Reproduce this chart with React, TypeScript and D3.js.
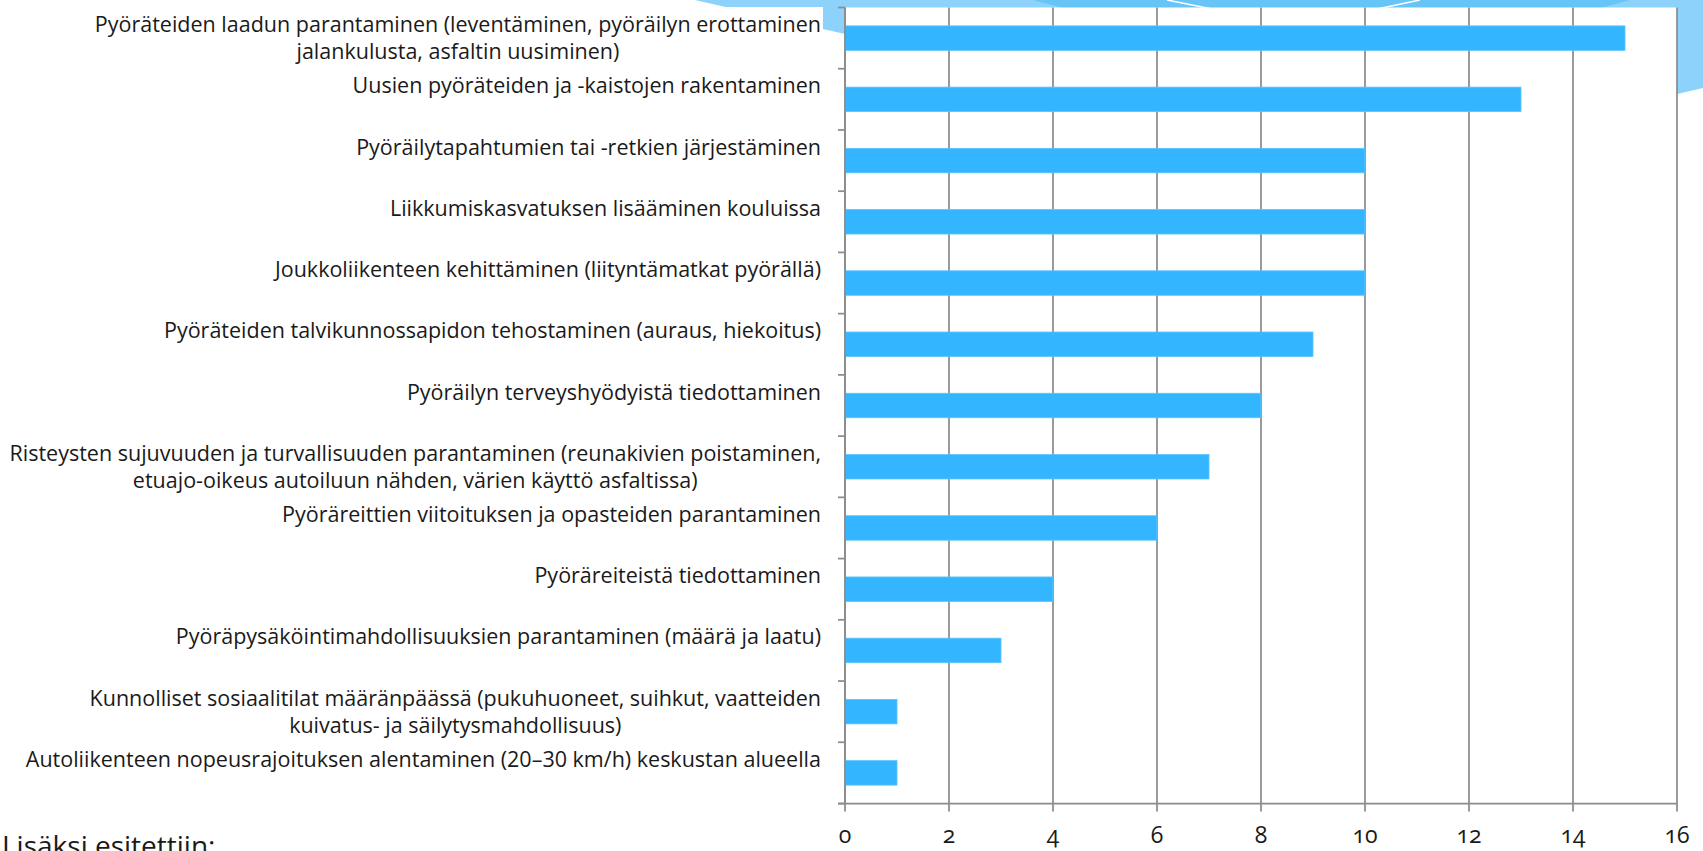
import { useEffect, useRef } from 'react';
import * as d3 from 'd3';

// categories top to bottom, "\n" marks the line break used in the original
const categories = [
  'Pyöräteiden laadun parantaminen (leventäminen, pyöräilyn erottaminen\njalankulusta, asfaltin uusiminen)',
  'Uusien pyöräteiden ja -kaistojen rakentaminen',
  'Pyöräilytapahtumien tai -retkien järjestäminen',
  'Liikkumiskasvatuksen lisääminen kouluissa',
  'Joukkoliikenteen kehittäminen (liityntämatkat pyörällä)',
  'Pyöräteiden talvikunnossapidon tehostaminen (auraus, hiekoitus)',
  'Pyöräilyn terveyshyödyistä tiedottaminen',
  'Risteysten sujuvuuden ja turvallisuuden parantaminen (reunakivien poistaminen,\netuajo-oikeus autoiluun nähden, värien käyttö asfaltissa)',
  'Pyöräreittien viitoituksen ja opasteiden parantaminen',
  'Pyöräreiteistä tiedottaminen',
  'Pyöräpysäköintimahdollisuuksien parantaminen (määrä ja laatu)',
  'Kunnolliset sosiaalitilat määränpäässä (pukuhuoneet, suihkut, vaatteiden\nkuivatus- ja säilytysmahdollisuus)',
  'Autoliikenteen nopeusrajoituksen alentaminen (20–30 km/h) keskustan alueella',
];

const values = [15, 13, 10, 10, 10, 9, 8, 7, 6, 4, 3, 1, 1];

const xTicks = [0, 2, 4, 6, 8, 10, 12, 14, 16];

const footnote = 'Lisäksi esitettiin:';

const WIDTH = 1703;
const HEIGHT = 851;
const FONT = '"Open Sans", "DejaVu Sans", sans-serif';

export default function App() {
  const svgRef = useRef<SVGSVGElement>(null);

  useEffect(() => {
    if (!svgRef.current) return;
    const svg = d3.select(svgRef.current);
    svg.selectAll('*').remove();

    const plot = { left: 845, right: 1677, top: 7.5, bottom: 803.5 };
    const labelRight = 821;

    // slide decoration behind the chart
    const deco = svg.append('g');
    deco
      .append('path')
      .attr('d', 'M695,0 L1703,0 L1703,88 L1660,98 L845,34 Z')
      .attr('fill', '#8dd2fa');
    deco
      .append('path')
      .attr('d', 'M1033,0 L1630,0 L1597,9 L1067,9 Z')
      .attr('fill', '#66c4f7');
    deco
      .append('path')
      .attr('d', 'M1167,0 L1212,9')
      .attr('stroke', '#ffffff')
      .attr('stroke-width', 1.5);
    deco
      .append('path')
      .attr('d', 'M1377,9 L1420,0')
      .attr('stroke', '#ffffff')
      .attr('stroke-width', 1.5);

    // white chart areas
    svg.append('rect').attr('x', 0).attr('y', 7).attr('width', 823).attr('height', HEIGHT - 7).attr('fill', '#fff');
    svg
      .append('rect')
      .attr('x', plot.left)
      .attr('y', plot.top)
      .attr('width', plot.right - plot.left)
      .attr('height', plot.bottom - plot.top)
      .attr('fill', '#fff');

    const x = d3.scaleLinear().domain([0, 16]).range([plot.left, plot.right]);

    const band = d3
      .scaleBand<number>()
      .domain(d3.range(categories.length))
      .range([plot.top, plot.bottom])
      .paddingInner(0)
      .paddingOuter(0);

    const barBand = d3
      .scaleBand<number>()
      .domain(d3.range(categories.length))
      .range([plot.top, plot.bottom])
      .paddingInner(0.6)
      .paddingOuter(0.3);

    const gridColor = '#8c8c8c';

    // vertical grid lines
    svg
      .append('g')
      .selectAll('line')
      .data(xTicks)
      .join('line')
      .attr('x1', (d) => x(d))
      .attr('x2', (d) => x(d))
      .attr('y1', plot.top)
      .attr('y2', plot.bottom + 8)
      .attr('stroke', gridColor)
      .attr('stroke-width', 1.75);

    // bars
    svg
      .append('g')
      .selectAll('rect')
      .data(values)
      .join('rect')
      .attr('x', x(0))
      .attr('y', (_, i) => barBand(i)!)
      .attr('width', (d) => x(d) - x(0))
      .attr('height', barBand.bandwidth())
      .attr('fill', '#33b6ff')
      .attr('stroke', '#5cc4fc')
      .attr('stroke-width', 0.8);

    // y axis with category boundary ticks
    svg
      .append('line')
      .attr('x1', plot.left)
      .attr('x2', plot.left)
      .attr('y1', plot.top)
      .attr('y2', plot.bottom)
      .attr('stroke', gridColor)
      .attr('stroke-width', 1.75);
    svg
      .append('g')
      .selectAll('line')
      .data(d3.range(categories.length + 1))
      .join('line')
      .attr('x1', plot.left - 7)
      .attr('x2', plot.left)
      .attr('y1', (i) => plot.top + i * band.step())
      .attr('y2', (i) => plot.top + i * band.step())
      .attr('stroke', gridColor)
      .attr('stroke-width', 1.75);

    // x axis line
    svg
      .append('line')
      .attr('x1', plot.left - 7)
      .attr('x2', plot.right)
      .attr('y1', plot.bottom)
      .attr('y2', plot.bottom)
      .attr('stroke', gridColor)
      .attr('stroke-width', 1.75);

    // x tick labels (old-style figures like the original)
    svg
      .append('g')
      .selectAll('text')
      .data(xTicks)
      .join('text')
      .attr('x', (d) => x(d))
      .attr('y', 843)
      .attr('text-anchor', 'middle')
      .attr('font-family', FONT)
      .attr('font-size', 23)
      .style('font-variant-numeric', 'oldstyle-nums')
      .attr('fill', '#1a1a1a')
      .text((d) => d);

    // category labels: lines centred within a right-aligned block
    const lineGap = 27;
    categories.forEach((label, i) => {
      const lines = label.split('\n');
      const cy = band(i)! + band.bandwidth() / 2;
      const g = svg.append('g');
      const texts = lines.map((line, j) =>
        g
          .append('text')
          .attr('y', cy - lineGap / 2 + j * lineGap)
          .attr('dy', '0.35em')
          .attr('text-anchor', 'middle')
          .attr('font-family', FONT)
          .attr('font-size', 21.5)
          .attr('fill', '#1a1a1a')
          .text(line)
      );
      const widths = texts.map((t) => (t.node() as SVGTextElement).getComputedTextLength());
      const blockW = d3.max(widths) || 0;
      texts.forEach((t) => t.attr('x', labelRight - blockW / 2));
    });

    // footnote cut by the bottom edge, as in the original slide
    svg
      .append('text')
      .attr('x', 2)
      .attr('y', 856)
      .attr('font-family', FONT)
      .attr('font-size', 28)
      .attr('fill', '#1a1a1a')
      .text(footnote);
  }, []);

  return (
    <div style={{ position: 'absolute', left: 0, top: 0, width: WIDTH, height: HEIGHT, overflow: 'hidden', background: '#fff' }}>
      <svg ref={svgRef} width={WIDTH} height={HEIGHT} style={{ display: 'block' }} />
    </div>
  );
}
